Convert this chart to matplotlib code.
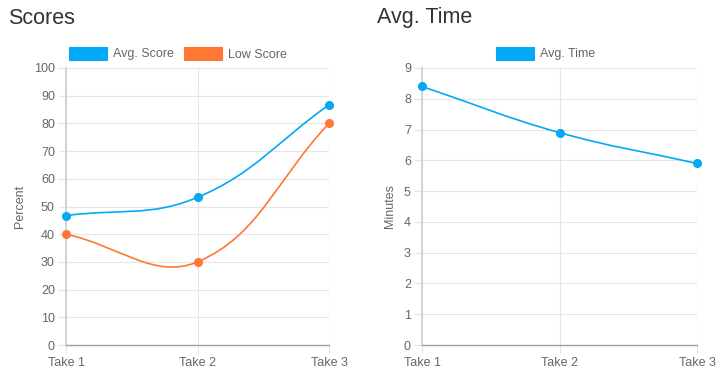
import numpy as np
import matplotlib
matplotlib.use("Agg")
import matplotlib.pyplot as plt
from matplotlib.path import Path
from matplotlib.patches import PathPatch, Rectangle

plt.rcParams['font.family'] = ['Liberation Sans', 'DejaVu Sans']

categories = ["Take 1", "Take 2", "Take 3"]
avg_score = [46.7, 53.3, 86.7]
low_score = [40, 30, 80]
avg_time = [8.4, 6.9, 5.9]

BLUE = "#03a9f4"
ORANGE = "#ff7733"
GRID = "#e6e6e6"
TXT = "#666666"

W, H = 721, 376
fig = plt.figure(figsize=(W / 100, H / 100), dpi=100)


def px_axes(x0, y0, x1, y1):
    return fig.add_axes([x0 / W, 1 - y1 / H, (x1 - x0) / W, (y1 - y0) / H])


def style(ax, ymax, ystep, ylabel):
    ax.set_xlim(0, len(categories) - 1)
    ax.set_ylim(0, ymax)
    ax.set_xticks(range(len(categories)))
    ax.set_xticklabels(categories)
    ax.set_yticks(np.arange(0, ymax + ystep / 2, ystep))
    ax.grid(True, color=GRID, lw=0.8)
    ax.set_axisbelow(True)
    for s in ("top", "right"):
        ax.spines[s].set_visible(False)
    ax.spines["left"].set_color("#d5d5d5")
    ax.spines["left"].set_linewidth(1.5)
    ax.spines["bottom"].set_color("#a0a0a0")
    ax.spines["bottom"].set_linewidth(1.0)
    ax.tick_params(axis="both", colors=GRID, labelcolor=TXT, labelsize=9,
                   length=6, width=0.8, pad=2)
    ax.tick_params(axis="x", pad=3)
    ax.set_ylabel(ylabel, color=TXT, fontsize=9, labelpad=6)


def chartjs_curve(ax, ys, color, t=0.4):
    xs = np.arange(len(ys))
    pts = ax.transData.transform(np.column_stack([xs, ys]))
    n = len(pts)
    prev_cp, next_cp = [], []
    for i in range(n):
        p1 = pts[i]
        p0 = pts[i - 1] if i > 0 else p1
        p2 = pts[i + 1] if i < n - 1 else p1
        d01 = np.hypot(*(p1 - p0))
        d12 = np.hypot(*(p2 - p1))
        tot = d01 + d12
        s01 = d01 / tot if tot else 0
        s12 = d12 / tot if tot else 0
        prev_cp.append(p1 - t * s01 * (p2 - p0))
        next_cp.append(p1 + t * s12 * (p2 - p0))
    verts = [pts[0]]
    codes = [Path.MOVETO]
    for i in range(n - 1):
        verts += [next_cp[i], prev_cp[i + 1], pts[i + 1]]
        codes += [Path.CURVE4] * 3
    verts = ax.transData.inverted().transform(np.array(verts))
    ax.add_patch(PathPatch(Path(verts, codes), fill=False, edgecolor=color,
                           lw=1.2, clip_on=False, zorder=3))
    ax.plot(xs, ys, "o", color=color, ms=5.5, clip_on=False, zorder=4)


def legend(items, cx, cy):
    box_w, box_h, gap_txt, gap_item = 38, 13, 6, 10
    r = fig.canvas.get_renderer()
    widths = []
    for lab, _ in items:
        t = fig.text(0, 0, lab, fontsize=9)
        bb = t.get_window_extent(renderer=r)
        widths.append(bb.width)
        t.remove()
    total = sum(box_w + gap_txt + w for w in widths) + gap_item * (len(items) - 1)
    x = cx - total / 2
    for (lab, col), w in zip(items, widths):
        fig.patches.append(Rectangle((x / W, 1 - (cy + box_h / 2) / H), box_w / W, box_h / H,
                                     transform=fig.transFigure, facecolor=col,
                                     edgecolor=col, lw=0.8))
        fig.text((x + box_w + gap_txt) / W, 1 - (cy + 4.5) / H, lab, fontsize=9, color=TXT,
                 va="baseline", ha="left")
        x += box_w + gap_txt + w + gap_item


# Left chart
ax1 = px_axes(66, 68, 329, 345)
style(ax1, 100, 10, "Percent")
chartjs_curve(ax1, avg_score, BLUE)
chartjs_curve(ax1, low_score, ORANGE)

# Right chart
ax2 = px_axes(422, 68, 697, 345)
style(ax2, 9, 1, "Minutes")
chartjs_curve(ax2, avg_time, BLUE)

fig.text(8 / W, 1 - 18 / H, "Scores", fontsize=15.5, color="#333333", va="center", ha="left")
fig.text(377 / W, 1 - 18 / H, "Avg. Time", fontsize=15.5, color="#333333", va="center", ha="left")

legend([("Avg. Score", BLUE), ("Low Score", ORANGE)], 178, 53)
legend([("Avg. Time", BLUE)], 546, 53)

fig.savefig("out.png", dpi=100)
